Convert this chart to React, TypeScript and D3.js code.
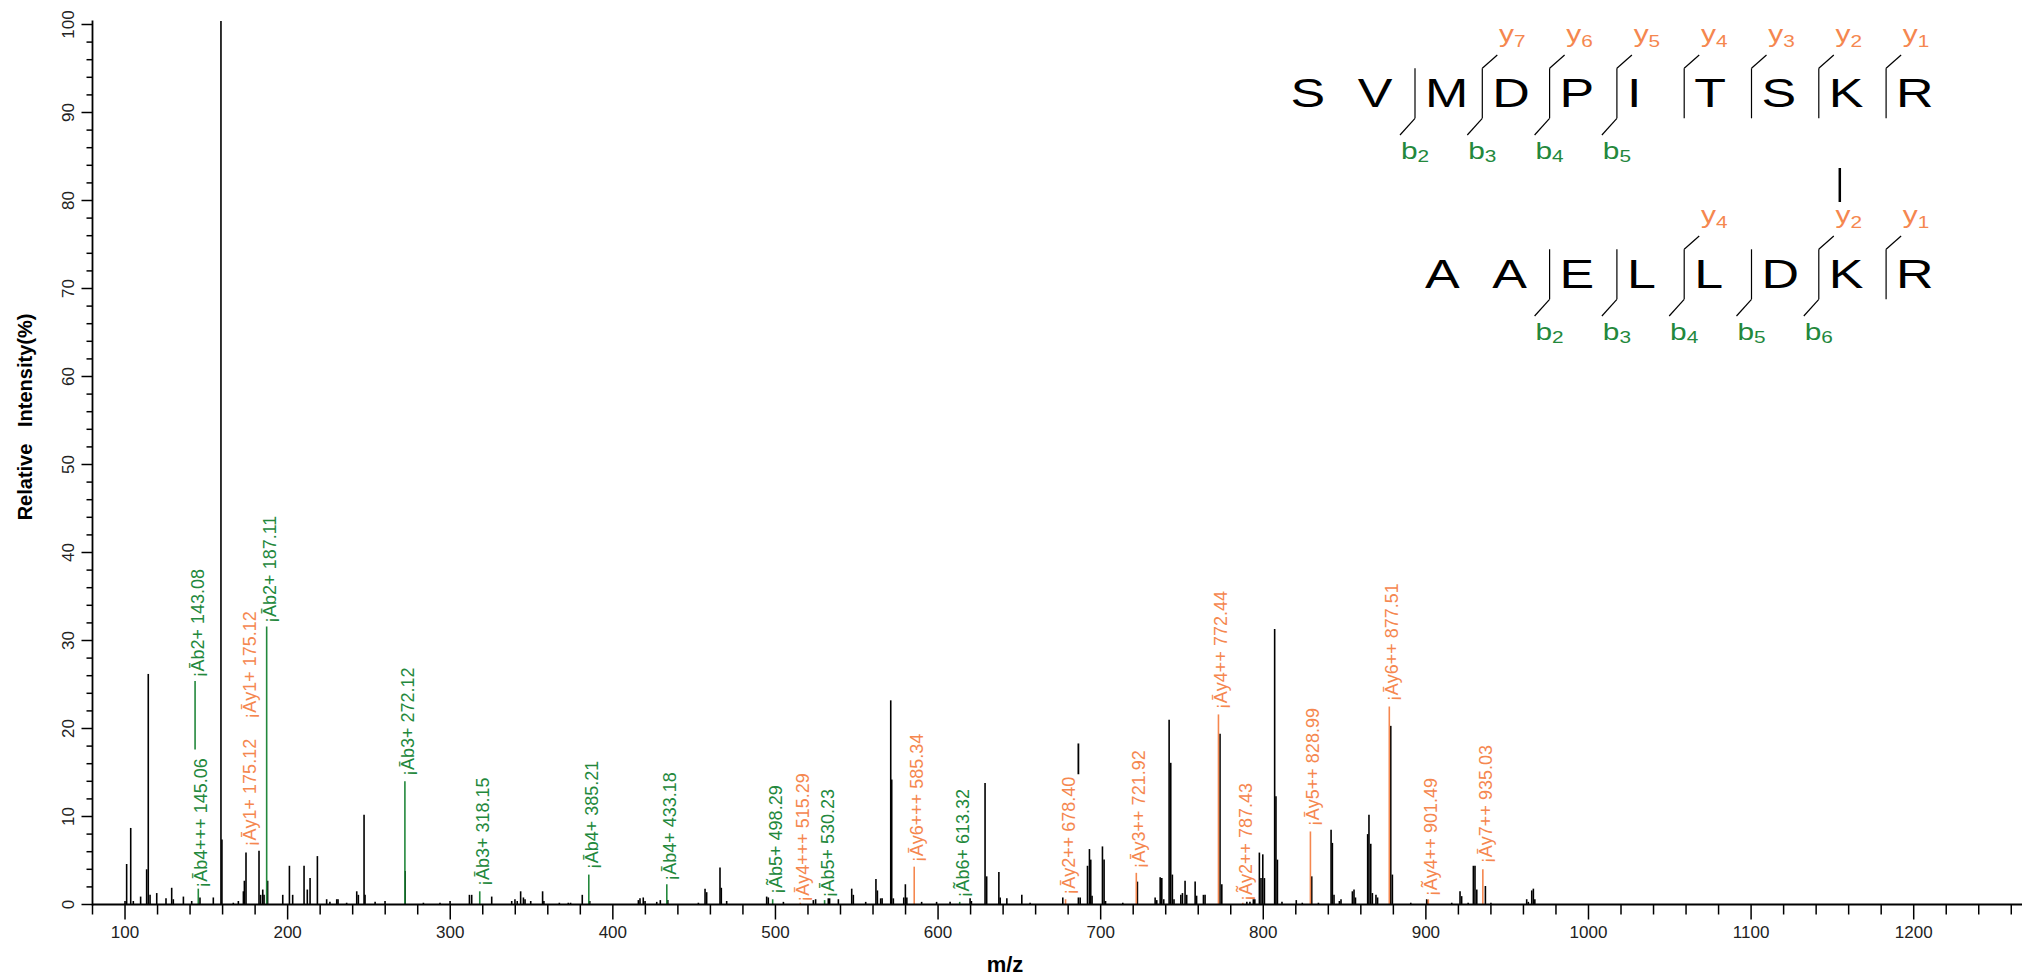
import React from 'react';
import * as d3 from 'd3';

const W = 2022;
const H = 977;

// Unassigned (black) peaks: [m/z, relative intensity %]
const peaks: [number, number][] = [
  [100.0, 0.4], [101.0, 4.6], [103.5, 8.7], [105.1, 0.4], [109.6, 0.9], [113.3, 4.0], [114.3, 26.2],
  [115.4, 1.1], [119.5, 1.3], [125.2, 0.7], [128.7, 1.9], [129.7, 0.6], [135.9, 0.9], [141.0, 0.4],
  [146.1, 0.8], [154.3, 0.8], [159.0, 100.4], [159.6, 7.4], [166.6, 0.2], [169.7, 0.4], [172.8, 1.5],
  [173.4, 2.7], [174.4, 5.9], [182.4, 6.1], [183.4, 1.1], [184.7, 1.7], [185.5, 1.1], [187.7, 2.7],
  [197.0, 1.1], [201.1, 4.4], [203.1, 1.1], [210.1, 4.4], [212.1, 1.7], [213.8, 3.0], [218.3, 5.5],
  [224.0, 0.6], [226.0, 0.3], [230.2, 0.6], [231.0, 0.6], [236.3, 0.2], [242.5, 1.5], [243.5, 1.1],
  [247.0, 10.2], [247.6, 1.1], [253.8, 0.3], [259.9, 0.4], [272.3, 3.8], [283.5, 0.2], [293.7, 0.2],
  [299.9, 0.4], [311.8, 1.1], [313.2, 1.1], [325.5, 0.9], [337.8, 0.4], [339.8, 0.6], [341.2, 0.4],
  [343.3, 1.5], [345.0, 0.8], [346.0, 0.6], [349.5, 0.4], [356.8, 1.5], [357.6, 0.4], [367.1, 0.2],
  [372.6, 0.2], [374.0, 0.2], [381.2, 1.1], [385.8, 0.4], [415.7, 0.5], [416.7, 0.7], [418.7, 0.8],
  [419.8, 0.4], [427.0, 0.3], [429.2, 0.5], [433.8, 0.5], [452.6, 0.2], [456.7, 1.8], [457.7, 1.4],
  [465.9, 4.2], [466.7, 1.9], [470.0, 0.4], [494.6, 0.9], [495.6, 0.8], [504.9, 0.3], [523.3, 0.5],
  [524.7, 0.6], [532.5, 0.7], [533.3, 0.7], [538.7, 0.6], [546.9, 1.8], [547.9, 1.1], [555.5, 0.3],
  [561.8, 2.9], [562.7, 1.6], [564.7, 0.7], [565.6, 0.7], [570.9, 23.2], [571.5, 14.2], [572.5, 0.7],
  [578.9, 0.8], [579.9, 2.3], [580.8, 0.8], [589.9, 0.3], [599.1, 0.3], [607.4, 0.3], [619.7, 0.7],
  [620.5, 0.4], [628.9, 13.8], [629.9, 3.2], [637.4, 3.7], [638.2, 0.8], [642.3, 0.7], [651.5, 1.1],
  [656.6, 0.2], [676.7, 0.8], [686.3, 0.8], [687.4, 0.8], [691.9, 4.4], [693.1, 6.3], [693.9, 5.1],
  [694.7, 1.0], [701.1, 6.6], [702.1, 5.1], [703.0, 0.4], [713.6, 0.2], [722.6, 2.6], [733.5, 0.8],
  [734.5, 0.5], [736.6, 3.1], [737.6, 3.0], [738.8, 0.6], [742.1, 21.0], [743.1, 16.1], [744.1, 3.4],
  [745.1, 0.6], [749.3, 1.1], [750.3, 1.3], [751.9, 2.7], [752.9, 1.1], [758.1, 2.6], [759.0, 1.0],
  [763.2, 1.1], [764.2, 1.1], [773.4, 19.4], [774.5, 2.3], [789.9, 0.3], [791.8, 0.3], [793.9, 0.6],
  [794.8, 0.6], [797.6, 5.9], [798.6, 3.0], [799.7, 5.7], [800.7, 3.0], [807.0, 31.3], [807.8, 12.3],
  [808.7, 5.1], [811.5, 0.3], [820.3, 0.5], [824.0, 0.2], [829.8, 3.2], [833.9, 0.2], [841.7, 8.5],
  [842.5, 7.0], [843.5, 1.1], [846.8, 0.4], [847.8, 0.6], [854.8, 1.5], [855.8, 1.7], [856.7, 0.8],
  [864.2, 8.0], [865.0, 10.2], [866.1, 6.9], [867.1, 1.3], [869.3, 1.1], [870.3, 0.8], [878.4, 20.3],
  [879.4, 3.4], [890.7, 0.2], [900.5, 0.6], [901.3, 0.5], [915.9, 0.2], [921.0, 1.5], [922.0, 0.95],
  [926.0, 0.2], [929.2, 4.4], [930.2, 4.4], [931.3, 1.7], [936.6, 2.1], [940.0, 0.2], [962.0, 0.6],
  [963.0, 0.3], [965.1, 1.6], [966.1, 1.8], [967.0, 0.6],
];

// Annotated fragment ions: [m/z, series, label, line from %, line to %, label starts at %]
const annotations: [number, 'b' | 'y', string, number, number, number][] = [
  [143.08, 'b', '¡Āb2+ 143.08', 17.6, 25.4, 25.8],
  [145.06, 'b', '¡Āb4+++ 145.06', 0, 1.8, 1.9],
  [175.12, 'y', '¡Āy1+ 175.12', 0, 0, 6.6],
  [175.12, 'y', '¡Āy1+ 175.12', 0, 0, 21.1],
  [187.11, 'b', '¡Āb2+ 187.11', 0, 31.6, 32.0],
  [272.12, 'b', '¡Āb3+ 272.12', 0, 14.0, 14.6],
  [318.15, 'b', '¡Āb3+ 318.15', 0, 1.5, 2.1],
  [385.21, 'b', '¡Āb4+ 385.21', 0, 3.4, 4.0],
  [433.18, 'b', '¡Āb4+ 433.18', 0, 2.3, 2.7],
  [498.29, 'b', '¡Ãb5+ 498.29', 0, 0.6, 1.2],
  [515.29, 'y', '¡Āy4+++ 515.29', 0, 0.2, 0.3],
  [530.23, 'b', '¡Āb5+ 530.23', 0, 0.5, 0.8],
  [585.34, 'y', '¡Āy6+++ 585.34', 0, 4.3, 4.8],
  [613.32, 'b', '¡Ãb6+ 613.32', 0, 0.3, 0.8],
  [678.40, 'y', '¡Āy2++ 678.40', 0, 0.6, 1.1],
  [721.92, 'y', '¡Āy3++ 721.92', 0, 3.6, 4.1],
  [772.44, 'y', '¡Āy4++ 772.44', 0, 21.6, 22.2],
  [787.43, 'y', '¡Ãy2++ 787.43', 0, 0.2, 0.4],
  [828.99, 'y', '¡Āy5++ 828.99', 0, 8.3, 8.9],
  [877.51, 'y', '¡Āy6++ 877.51', 0, 22.5, 23.1],
  [901.49, 'y', '¡Ãy4++ 901.49', 0, 0.6, 0.95],
  [935.03, 'y', '¡Āy7++ 935.03', 0, 4.0, 4.7],
];

// Detached segment drawn above the 686 peak: [m/z, from %, to %]
const strayMarks: [number, number, number][] = [[686.3, 14.8, 18.3]];

const xTickLabels = [100, 200, 300, 400, 500, 600, 700, 800, 900, 1000, 1100, 1200];
const yTickLabels = [0, 10, 20, 30, 40, 50, 60, 70, 80, 90, 100];

// Peptide sequence diagram
const seqTop = ['S', 'V', 'M', 'D', 'P', 'I', 'T', 'S', 'K', 'R'];
const seqBottom = ['A', 'A', 'E', 'L', 'L', 'D', 'K', 'R'];
const seqBottomStartCol = 2;
const topCutCols = [2, 3, 4, 5, 6, 7, 8, 9];
const topBIons: [number, string][] = [[2, '2'], [3, '3'], [4, '4'], [5, '5']];
const topYIons: [number, string][] = [[3, '7'], [4, '6'], [5, '5'], [6, '4'], [7, '3'], [8, '2'], [9, '1']];
const bottomCutCols = [4, 5, 6, 7, 8, 9];
const bottomBIons: [number, string][] = [[4, '2'], [5, '3'], [6, '4'], [7, '5'], [8, '6']];
const bottomYIons: [number, string][] = [[6, '4'], [8, '2'], [9, '1']];
const crossLinkCol = 8;

const GREEN = '#23883c';
const ORANGE = '#f5874f';
const FONT = "'Liberation Sans', Arial, sans-serif";

export default function App() {
  const x = d3.scaleLinear().domain([80, 1266.6]).range([92.5, 2022]);
  const y = d3.scaleLinear().domain([0, 100]).range([904.5, 24.5]);
  const xTicks = d3.range(80, 1261, 20);
  const yTicks = d3.range(0, 101, 2);

  const col = d3.scaleLinear().domain([0, 1]).range([1280.4, 1347.7]);
  const stretch = 1.3;

  const rows = [
    { letters: seqTop, start: 0, cuts: topCutCols, bIons: topBIons, yIons: topYIons, dy: 0 },
    { letters: seqBottom, start: seqBottomStartCol, cuts: bottomCutCols, bIons: bottomBIons, yIons: bottomYIons, dy: 181 },
  ];

  return (
    <svg width={W} height={H} style={{ position: 'absolute', left: 0, top: 0, display: 'block', background: '#fff' }} fontFamily={FONT}>
      <rect x={0} y={0} width={W} height={H} fill="#fff" />

      {/* peaks */}
      <g stroke="#000" strokeWidth={1.6}>
        {peaks.map(([m, v], i) => (
          <line key={i} x1={x(m)} x2={x(m)} y1={y(0)} y2={y(v)} />
        ))}
        {strayMarks.map(([m, a, b], i) => (
          <line key={'s' + i} x1={x(m)} x2={x(m)} y1={y(a)} y2={y(b)} strokeWidth={1.8} />
        ))}
      </g>

      {/* annotated ions */}
      {annotations.map(([m, kind, label, from, to, at], i) => {
        const c = kind === 'b' ? GREEN : ORANGE;
        const px = x(m);
        return (
          <g key={'a' + i}>
            {to > from && <line x1={px} x2={px} y1={y(from)} y2={y(to)} stroke={c} strokeWidth={1.6} />}
            <text
              transform={`translate(${px + 3},${y(at)}) rotate(-90)`}
              fontSize={18}
              fill={c}
              dominantBaseline="central"
              textAnchor="start"
            >
              {label}
            </text>
          </g>
        );
      })}

      {/* axes */}
      <line x1={x(80)} x2={W} y1={y(0)} y2={y(0)} stroke="#000" strokeWidth={1.8} />
      <line x1={x(80)} x2={x(80)} y1={y(0) + 1} y2={20.5} stroke="#000" strokeWidth={1.8} />
      {xTicks.map((t) => (
        <line key={'xt' + t} x1={x(t)} x2={x(t)} y1={y(0)} y2={y(0) + (t % 100 === 0 ? 15 : 10)} stroke="#000" strokeWidth={1.5} />
      ))}
      {yTicks.map((t) => (
        <line key={'yt' + t} x1={x(80)} x2={x(80) - (t % 10 === 0 ? 11 : 6)} y1={y(t)} y2={y(t)} stroke="#000" strokeWidth={1.5} />
      ))}
      {xTickLabels.map((t) => (
        <text key={'xl' + t} x={x(t)} y={938} fontSize={17} textAnchor="middle" fill="#222">
          {t}
        </text>
      ))}
      {yTickLabels.map((t) => (
        <text
          key={'yl' + t}
          transform={`translate(68,${y(t)}) rotate(-90)`}
          fontSize={17}
          textAnchor="middle"
          dominantBaseline="central"
          fill="#222"
        >
          {t}
        </text>
      ))}
      <text x={1005} y={972} fontSize={22} fontWeight="bold" textAnchor="middle" fill="#000">
        m/z
      </text>
      <text
        transform="translate(25,417) rotate(-90)"
        fontSize={20}
        fontWeight="bold"
        textAnchor="middle"
        dominantBaseline="central"
        fill="#000"
        style={{ whiteSpace: 'pre' }}
      >
        {'Relative   Intensity(%)'}
      </text>

      {/* sequence diagram */}
      {rows.map((r, ri) => (
        <g key={'row' + ri} transform={`translate(0,${r.dy})`}>
          {r.letters.map((l, i) => (
            <text
              key={'l' + i}
              transform={`translate(${col(r.start + i) + 10},107) scale(${stretch},1)`}
              fontSize={40}
              fill="#000"
            >
              {l}
            </text>
          ))}
          {r.cuts.map((c) => (
            <line key={'c' + c} x1={col(c)} x2={col(c)} y1={68.3} y2={118.3} stroke="#000" strokeWidth={1.2} />
          ))}
          {r.yIons.map(([c, n]) => (
            <g key={'y' + c}>
              <line x1={col(c)} y1={68.3} x2={col(c) + 15} y2={55} stroke="#000" strokeWidth={1.2} />
              <text transform={`translate(${col(c) + 30},42) scale(${stretch},1)`} textAnchor="middle" fill={ORANGE}>
                <tspan fontSize={23}>y</tspan>
                <tspan fontSize={16} dy={5}>{n}</tspan>
              </text>
            </g>
          ))}
          {r.bIons.map(([c, n]) => (
            <g key={'b' + c}>
              <line x1={col(c)} y1={118.3} x2={col(c) - 15} y2={135} stroke="#000" strokeWidth={1.2} />
              <text transform={`translate(${col(c)},159) scale(${stretch},1)`} textAnchor="middle" fill={GREEN}>
                <tspan fontSize={23}>b</tspan>
                <tspan fontSize={16} dy={3}>{n}</tspan>
              </text>
            </g>
          ))}
        </g>
      ))}
      <line x1={col(crossLinkCol) + 21} x2={col(crossLinkCol) + 21} y1={168} y2={202} stroke="#000" strokeWidth={2.5} />
    </svg>
  );
}
